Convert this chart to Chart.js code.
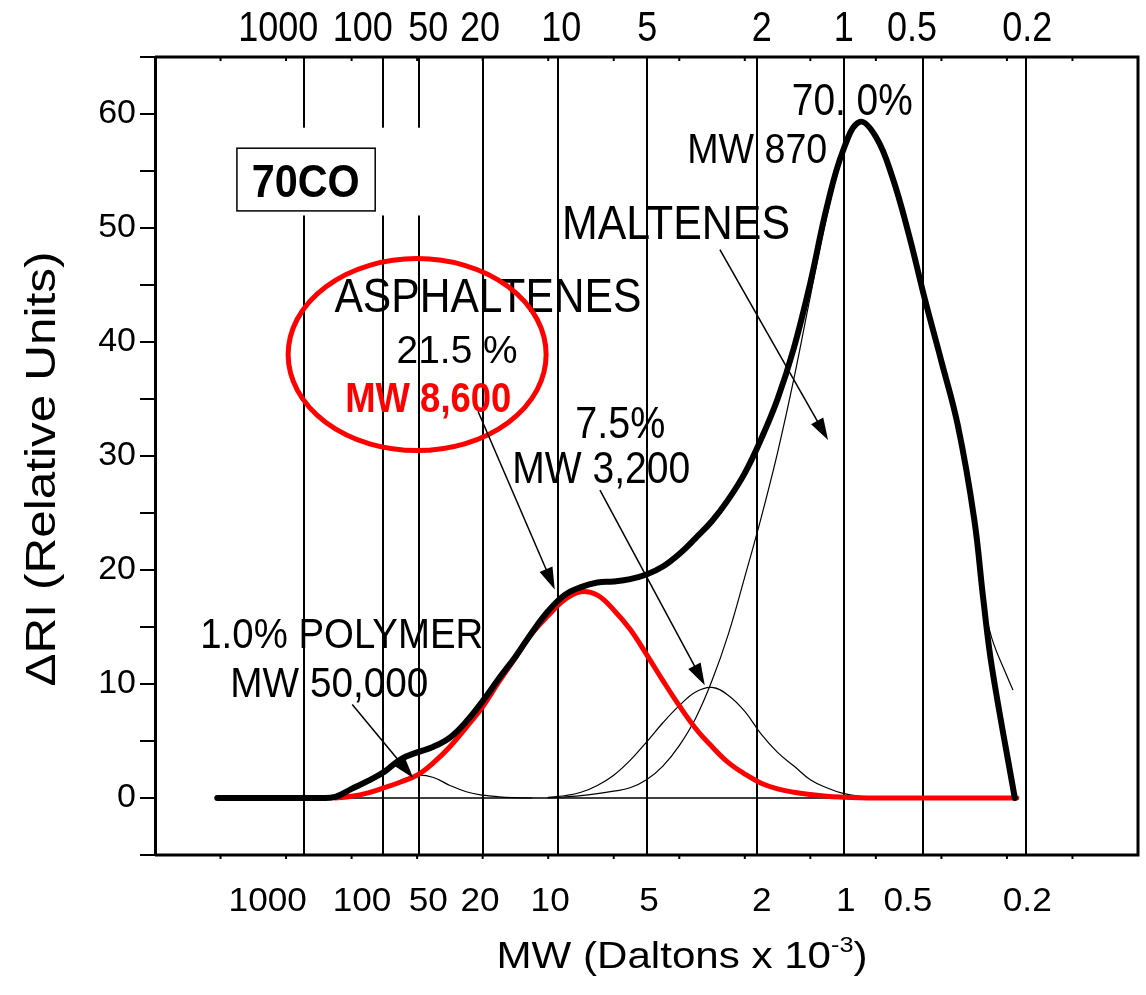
<!DOCTYPE html>
<html>
<head>
<meta charset="utf-8">
<script src="https://cdn.jsdelivr.net/npm/chart.js@4.4.0/dist/chart.umd.min.js"></script>
<style>
  html, body { margin: 0; padding: 0; background: #fff; }
  #wrap { width: 1146px; height: 995px; }
</style>
</head>
<body>
<div id="wrap"><canvas id="gpc" width="1146" height="995"></canvas></div>
<script>
// x runs along the elution axis (0..15, arbitrary units); the MW calibration
// lines and their labels sit at fixed elution positions
const mwLabels = ['1000', '100', '50', '20', '10', '5', '2', '1', '0.5', '0.2'];
const mwLinePos = [2.27, 3.48, 4.03, 5.01, 6.15, 7.51, 9.19, 10.51, 11.72, 13.29];
const mwTopLabelPos = [1.88, 3.17, 4.17, 4.96, 6.20, 7.51, 9.26, 10.51, 11.55, 13.31];
const mwBottomLabelPos = [1.72, 3.16, 4.17, 4.96, 6.03, 7.54, 9.26, 10.54, 11.49, 13.31];
const yTickValues = [0, 10, 20, 30, 40, 50, 60];

// total RI trace (thick black)
const totalX = [0.95, 1.50, 2.00, 2.50, 2.75, 3.00, 3.25, 3.50, 3.75, 4.00, 4.25, 4.50, 4.75, 5.00, 5.25,
  5.50, 5.75, 6.00, 6.25, 6.50, 6.75, 7.00, 7.25, 7.50, 7.75, 8.00, 8.25, 8.50, 8.75, 9.00, 9.25, 9.50,
  9.75, 10.00, 10.25, 10.50, 10.75, 11.00, 11.25, 11.50, 11.75, 12.00, 12.25, 12.50, 12.64, 12.77, 13.12];
const totalY = [0, 0, 0, 0, 0.1, 0.8, 1.5, 2.3, 3.4, 4.0, 4.5, 5.3, 6.7, 8.5, 10.5,
  12.4, 14.5, 16.4, 17.8, 18.5, 18.9, 19.0, 19.2, 19.6, 20.3, 21.4, 22.8, 24.3, 26.2, 28.5, 31.5, 35.0,
  39.5, 45.2, 51.8, 56.8, 59.3, 58.0, 54.5, 49.5, 43.7, 38.3, 32.7, 24.5, 17.4, 11.5, 0];

// asphaltenes fit (red)
const asphX = [2.75, 3.00, 3.25, 3.50, 3.75, 4.00, 4.25, 4.50, 4.75, 5.00, 5.25, 5.50, 5.75, 6.00, 6.25, 6.50,
  6.75, 7.00, 7.25, 7.50, 7.75, 8.00, 8.25, 8.50, 8.75, 9.00, 9.25, 9.50, 9.75, 10.00, 10.25, 10.50, 10.75, 11.00, 13.15];
const asphY = [0, 0.15, 0.45, 0.9, 1.4, 2.0, 3.1, 4.5, 6.2, 8.0, 10.2, 12.3, 14.4, 16.0, 17.4, 18.1,
  17.8, 16.5, 14.8, 12.6, 10.3, 8.1, 6.1, 4.5, 3.1, 2.1, 1.3, 0.8, 0.5, 0.3, 0.15, 0.07, 0.02, 0, 0];

// polymer fit (thin)
const polyX = [2.75, 3.00, 3.25, 3.50, 3.75, 4.00, 4.25, 4.50, 4.75, 5.00, 5.25, 5.50, 5.75];
const polyY = [0, 0.1, 0.35, 0.9, 1.55, 2.0, 1.8, 1.1, 0.55, 0.25, 0.1, 0.03, 0];

// 7.5 % / MW 3,200 fit (thin)
const midX = [6.00, 6.25, 6.50, 6.75, 7.00, 7.25, 7.50, 7.75, 8.00, 8.25, 8.50, 8.75, 9.00, 9.25, 9.50,
  9.75, 10.00, 10.25, 10.50, 10.75, 11.00, 11.50];
const midY = [0.05, 0.2, 0.5, 1.1, 2.0, 3.3, 4.9, 6.6, 8.1, 9.3, 9.7, 9.0, 7.6, 5.6, 4.0,
  2.8, 1.6, 0.9, 0.4, 0.15, 0.05, 0];

// maltenes fit (thin)
const maltX = [6.00, 6.50, 7.00, 7.25, 7.50, 7.75, 8.00, 8.25, 8.50, 8.75, 9.00, 9.25, 9.50, 9.75, 10.00,
  10.25, 10.50, 10.75, 11.00, 11.25, 11.50, 11.75, 12.00, 12.25, 12.50, 12.64, 12.77, 13.00, 13.09];
const maltY = [0, 0.2, 0.6, 0.9, 1.6, 2.8, 4.6, 7.0, 10.3, 14.4, 19.4, 24.6, 30.3, 36.8, 44.0,
  51.0, 56.4, 59.2, 58.0, 54.5, 49.5, 43.7, 38.3, 32.7, 24.5, 17.4, 14.0, 10.7, 9.5];

// zero baseline under the traces
const baseX = [0.95, 13.12];
const baseY = [0, 0];

const pts = (xs, ys) => xs.map((x, i) => ({ x: x, y: ys[i] }));
const FONT = '"Liberation Sans", Arial, sans-serif';

// draw text with a given cap height, squeezed/stretched to a target width
function fitText(ctx, s, cx, cy, capH, o) {
  o = o || {};
  const size = capH / 0.716;
  ctx.save();
  ctx.font = (o.bold ? 'bold ' : '') + size + 'px ' + FONT;
  const m = ctx.measureText(s).width;
  const sx = o.w ? o.w / m : (o.sx || 1);
  ctx.translate(cx, cy);
  if (o.rot) ctx.rotate(o.rot);
  ctx.scale(sx, 1);
  ctx.fillStyle = o.color || '#000';
  ctx.textAlign = 'center';
  ctx.textBaseline = 'alphabetic';
  ctx.fillText(s, 0, capH / 2);
  ctx.restore();
}

function arrow(ctx, x1, y1, x2, y2) {
  const a = Math.atan2(y2 - y1, x2 - x1);
  const len = 22, half = 7;
  ctx.save();
  ctx.strokeStyle = '#000';
  ctx.fillStyle = '#000';
  ctx.lineWidth = 1.5;
  ctx.beginPath();
  ctx.moveTo(x1, y1);
  ctx.lineTo(x2 - Math.cos(a) * len * 0.8, y2 - Math.sin(a) * len * 0.8);
  ctx.stroke();
  ctx.beginPath();
  ctx.moveTo(x2, y2);
  ctx.lineTo(x2 - Math.cos(a) * len - Math.sin(a) * half, y2 - Math.sin(a) * len + Math.cos(a) * half);
  ctx.lineTo(x2 - Math.cos(a) * len + Math.sin(a) * half, y2 - Math.sin(a) * len - Math.cos(a) * half);
  ctx.closePath();
  ctx.fill();
  ctx.restore();
}

const decor = {
  id: 'gpcDecor',
  beforeDatasetsDraw(chart) {
    const { ctx, chartArea: a, scales: { x, y } } = chart;
    ctx.save();
    // MW calibration lines
    ctx.strokeStyle = '#000';
    ctx.lineWidth = 2;
    mwLinePos.forEach(p => {
      const px = Math.round(x.getPixelForValue(p));
      ctx.beginPath();
      ctx.moveTo(px, a.top);
      ctx.lineTo(px, a.bottom);
      ctx.stroke();
    });
    // white patch behind the sample label
    ctx.fillStyle = '#fff';
    const mx1 = x.getPixelForValue(1.1), mx2 = x.getPixelForValue(4.5);
    const my1 = y.getPixelForValue(58.8), my2 = y.getPixelForValue(51.1);
    ctx.fillRect(mx1, my1, mx2 - mx1, my2 - my1);
    // sample label box
    const bx1 = x.getPixelForValue(1.25), bx2 = x.getPixelForValue(3.36);
    const by1 = y.getPixelForValue(57.0), by2 = y.getPixelForValue(51.5);
    ctx.lineWidth = 1.5;
    ctx.strokeRect(bx1, by1, bx2 - bx1, by2 - by1);
    fitText(ctx, '70CO', x.getPixelForValue(2.30), y.getPixelForValue(54.2), 33, { w: 108, bold: true });
    ctx.restore();
  },
  afterDatasetsDraw(chart) {
    const { ctx, chartArea: a, scales: { x, y } } = chart;
    ctx.save();
    // frame: top, right, bottom (left comes from the y axis border)
    ctx.strokeStyle = '#000';
    ctx.lineWidth = 3;
    ctx.beginPath();
    ctx.moveTo(a.left, a.top);
    ctx.lineTo(a.right, a.top);
    ctx.lineTo(a.right, a.bottom);
    ctx.lineTo(a.left, a.bottom);
    ctx.stroke();
    // small elution ticks along top and bottom
    ctx.lineWidth = 2;
    for (let v = 1; v < 15; v++) {
      const px = x.getPixelForValue(v);
      ctx.beginPath();
      ctx.moveTo(px, a.top);
      ctx.lineTo(px, a.top + 4);
      ctx.moveTo(px, a.bottom);
      ctx.lineTo(px, a.bottom + 4);
      ctx.stroke();
    }
    // MW tick labels, top and bottom
    mwLabels.forEach((s, i) => {
      fitText(ctx, s, x.getPixelForValue(mwTopLabelPos[i]), a.top - 31, 30, { sx: 0.86 });
      fitText(ctx, s, x.getPixelForValue(mwBottomLabelPos[i]), a.bottom + 44, 24, { sx: 1.05 });
    });
    // axis titles
    fitText(ctx, '\u0394RI (Relative Units)', 40, (a.top + a.bottom) / 2 + 13, 30, { w: 435, rot: -Math.PI / 2 });
    (function () {
      const capH = 26, size = capH / 0.716, total = 371, cx = 682, base = 968;
      ctx.font = size + 'px ' + FONT;
      const wa = ctx.measureText('MW (Daltons x 10').width;
      const wc = ctx.measureText(')').width;
      ctx.font = (size * 0.6) + 'px ' + FONT;
      const wb = ctx.measureText('-3').width;
      const sx = total / (wa + wb + wc);
      ctx.save();
      ctx.translate(cx - total / 2, base);
      ctx.scale(sx, 1);
      ctx.fillStyle = '#000';
      ctx.textAlign = 'left';
      ctx.textBaseline = 'alphabetic';
      ctx.font = size + 'px ' + FONT;
      ctx.fillText('MW (Daltons x 10', 0, 0);
      ctx.fillText(')', wa + wb, 0);
      ctx.font = (size * 0.6) + 'px ' + FONT;
      ctx.fillText('-3', wa, -size * 0.45);
      ctx.restore();
    })();
    // annotations
    const P = (u, v) => [x.getPixelForValue(u), y.getPixelForValue(v)];
    const note = (s, u, v, capH, w, o) => {
      const [px, py] = P(u, v);
      fitText(ctx, s, px, py, capH, Object.assign({ w: w }, o || {}));
    };
    note('70. 0%', 10.64, 61.3, 32, 121);
    note('MW 870', 9.19, 57.0, 30, 140);
    note('MALTENES', 7.95, 50.5, 34, 228);
    note('ASPHALTENES', 5.08, 44.1, 34, 307);
    note('21.5 %', 4.61, 39.4, 28, 121);
    note('MW 8,600', 4.17, 35.2, 30, 166, { bold: true, color: '#ff0000' });
    note('7.5%', 7.10, 33.0, 32, 90);
    note('MW 3,200', 6.81, 29.0, 32, 178);
    note('1.0% POLYMER', 2.85, 14.5, 30, 283);
    note('MW 50,000', 2.66, 10.2, 30, 198);
    // red ring round the asphaltenes label
    const [ex, ey] = P(4.0, 38.9);
    ctx.strokeStyle = '#ff0000';
    ctx.lineWidth = 5;
    ctx.beginPath();
    ctx.ellipse(ex, ey, 129, 96, 0, 0, Math.PI * 2);
    ctx.stroke();
    // arrows
    arrow(ctx, ...P(3.01, 8.2), ...P(3.94, 1.75));
    arrow(ctx, ...P(4.93, 33.9), ...P(6.10, 18.3));
    arrow(ctx, ...P(6.79, 27.0), ...P(8.39, 9.9));
    arrow(ctx, ...P(8.62, 48.1), ...P(10.27, 31.4));
    ctx.restore();
  }
};

new Chart(document.getElementById('gpc'), {
  type: 'line',
  data: {
    datasets: [
      { label: 'Total', data: pts(totalX, totalY), borderColor: '#000', borderWidth: 6, order: 0 },
      { label: 'Asphaltenes', data: pts(asphX, asphY), borderColor: '#ff0000', borderWidth: 5, order: 1 },
      { label: 'Polymer', data: pts(polyX, polyY), borderColor: '#000', borderWidth: 1.2, order: 2 },
      { label: 'MW 3,200', data: pts(midX, midY), borderColor: '#000', borderWidth: 1.2, order: 2 },
      { label: 'Maltenes', data: pts(maltX, maltY), borderColor: '#000', borderWidth: 1.2, order: 2 },
      { label: 'Baseline', data: pts(baseX, baseY), borderColor: '#000', borderWidth: 1.5, order: 3 }
    ]
  },
  options: {
    responsive: false,
    animation: false,
    devicePixelRatio: 1,
    layout: { padding: { top: 57, right: 8, bottom: 140, left: 0 } },
    elements: {
      point: { radius: 0 },
      line: { tension: 0.4, fill: false, borderCapStyle: 'round', borderJoinStyle: 'round' }
    },
    plugins: { legend: { display: false }, tooltip: { enabled: false } },
    scales: {
      x: { type: 'linear', min: 0, max: 15, display: false },
      y: {
        min: -5,
        max: 65,
        afterFit: s => { s.width = 155; },
        border: { display: true, color: '#000', width: 3 },
        grid: { drawOnChartArea: false, color: '#000', lineWidth: 2, tickLength: 15 },
        ticks: {
          stepSize: 5,
          color: '#000',
          padding: 4,
          font: { family: FONT, size: 34 },
          callback: v => (yTickValues.includes(v) ? String(v) : '')
        }
      }
    }
  },
  plugins: [decor]
});
</script>
</body>
</html>
